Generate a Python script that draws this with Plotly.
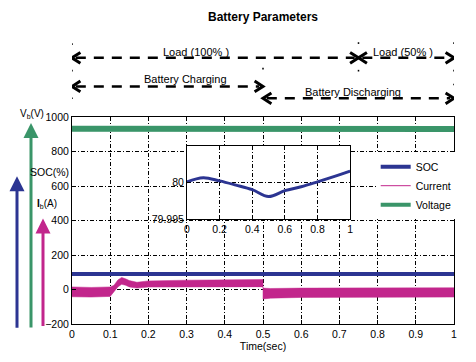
import plotly.graph_objects as go

# ---------------- data ----------------
time_soc = [0.0, 1.0]
soc_main = [90, 90]

time_v = [0.0, 0.1, 0.1, 0.5, 0.5, 1.0]
voltage = [932, 932, 924, 924, 930, 930]

time_i = [0.0, 0.05, 0.1, 0.11, 0.12, 0.13, 0.14, 0.15, 0.17, 0.2, 0.3, 0.4, 0.5, 0.5, 0.52, 0.6, 0.8, 1.0]
current_hi = [15, 12, 15, 25, 55, 70, 62, 52, 42, 50, 54, 56, 58, 8, 6, 8, 8, 10]
current_lo = [-42, -44, -40, -15, 15, 30, 25, 15, 8, 14, 14, 14, 16, -55, -50, -46, -45, -44]

time_inset = [0.0, 0.1, 0.2, 0.3, 0.4, 0.5, 0.6, 0.7, 0.8, 0.9, 1.0]
soc_inset = [80.00009, 80.00066, 80.00022, 79.99965, 79.99903, 79.99811,
             79.99890, 79.99943, 80.00009, 80.00079, 80.00154]

x_ticks = [0, 0.1, 0.2, 0.3, 0.4, 0.5, 0.6, 0.7, 0.8, 0.9, 1]
y_ticks = [-200, 0, 200, 400, 600, 800, 1000]
inset_x_ticks = [0, 0.2, 0.4, 0.6, 0.8, 1]
inset_y_ticks = [79.995, 80]

C_SOC = "#2c3592"
C_CUR = "#c2268c"
C_VOL = "#3a9569"
FONT = "Liberation Sans, Arial"

fig = go.Figure()

# current envelope
fig.add_trace(go.Scatter(x=time_i, y=current_lo, mode="lines",
                         line=dict(color=C_CUR, width=0.5), showlegend=False, hoverinfo="skip"))
fig.add_trace(go.Scatter(x=time_i, y=current_hi, mode="lines", fill="tonexty",
                         fillcolor=C_CUR, line=dict(color=C_CUR, width=0.5),
                         showlegend=False))
fig.add_trace(go.Scatter(x=time_soc, y=soc_main, mode="lines",
                         line=dict(color=C_SOC, width=4), showlegend=False))
fig.add_trace(go.Scatter(x=time_v, y=voltage, mode="lines",
                         line=dict(color=C_VOL, width=6), showlegend=False))

# legend entries
fig.add_trace(go.Scatter(x=[None], y=[None], mode="lines", name="SOC",
                         line=dict(color=C_SOC, width=4)))
fig.add_trace(go.Scatter(x=[None], y=[None], mode="lines", name="Current",
                         line=dict(color=C_CUR, width=1)))
fig.add_trace(go.Scatter(x=[None], y=[None], mode="lines", name="Voltage",
                         line=dict(color=C_VOL, width=4)))

# inset
fig.add_trace(go.Scatter(x=time_inset, y=soc_inset, mode="lines", xaxis="x2", yaxis="y2",
                         line=dict(color=C_SOC, width=3, shape="spline"), showlegend=False))

grid_dash = "4px,2px,1px,2px"

fig.update_layout(
    width=476, height=362,
    margin=dict(l=72, r=22, t=117, b=35),
    paper_bgcolor="white", plot_bgcolor="white",
    font=dict(family=FONT, size=10, color="black"),
    title=dict(text="<b>Battery Parameters</b>", x=0.5, xref="paper",
               y=1 - 17 / 362, yanchor="middle", font=dict(size=12, family=FONT)),
    xaxis=dict(range=[0, 1], tickvals=x_ticks, ticktext=[str(v) for v in x_ticks],
               showline=True, mirror=True, linecolor="black", linewidth=1,
               ticks="inside", ticklen=4, tickcolor="black",
               showgrid=True, gridcolor="black", gridwidth=1, griddash=grid_dash,
               zeroline=False, tickfont=dict(size=10.5),
               title=dict(text="Time(sec)", standoff=3, font=dict(size=10.5))),
    yaxis=dict(range=[-200, 1000], tickvals=y_ticks,
               showline=True, mirror=True, linecolor="black", linewidth=1,
               ticks="inside", ticklen=4, tickcolor="black",
               showgrid=True, gridcolor="black", gridwidth=1, griddash=grid_dash,
               zeroline=False, tickfont=dict(size=10.5)),
    xaxis2=dict(domain=[0.301, 0.728], anchor="y2", range=[0, 1], tickvals=inset_x_ticks,
                ticktext=["0", "0.2", "0.4", "0.6", "0.8", "1"],
                showline=True, mirror=True, linecolor="black", linewidth=1,
                ticks="inside", ticklen=3, tickcolor="black",
                showgrid=True, gridcolor="black", gridwidth=1, griddash=grid_dash,
                zeroline=False, tickfont=dict(size=10.5)),
    yaxis2=dict(domain=[0.505, 0.862], anchor="x2", range=[79.995, 80.005],
                tickvals=inset_y_ticks, ticktext=["79.995", "80"],
                showline=True, mirror=True, linecolor="black", linewidth=1,
                ticks="inside", ticklen=3, tickcolor="black",
                showgrid=True, gridcolor="black", gridwidth=1, griddash=grid_dash,
                zeroline=False, tickfont=dict(size=10.5)),
    legend=dict(x=0.795, y=0.83, xanchor="left", yanchor="top",
                bgcolor="white", borderwidth=0, font=dict(size=10.5),
                itemwidth=30, tracegroupgap=0, traceorder="normal"),
)

shapes = []
# white background behind inset
shapes.append(dict(type="rect", xref="x2 domain", yref="y2 domain", x0=0, x1=1, y0=0, y1=1,
                   fillcolor="white", line=dict(width=0), layer="below"))

def ypx(py):
    return (327 - py) / 210.0

# dashed double arrows at top: (x0, x1, pixel y)
arrow_rows = [(0.0, 0.75, 57), (0.75, 1.0, 57), (0.0, 0.5, 86), (0.5, 1.0, 98)]
hx, hy = 0.022, 0.026
for x0, x1, py in arrow_rows:
    y = ypx(py)
    shapes.append(dict(type="line", xref="x", yref="paper", x0=x0 + 0.01, x1=x1 - 0.01, y0=y, y1=y,
                       line=dict(color="black", width=2.5, dash="10px,8px")))
    shapes.append(dict(type="path", xref="x", yref="paper",
                       path=f"M {x0 + hx},{y + hy} L {x0},{y} L {x0 + hx},{y - hy}",
                       line=dict(color="black", width=3)))
    shapes.append(dict(type="path", xref="x", yref="paper",
                       path=f"M {x1 - hx},{y + hy} L {x1},{y} L {x1 - hx},{y - hy}",
                       line=dict(color="black", width=3)))

# small dots at phase boundaries
dots = [(0, 43), (0.75, 42), (1, 42), (0, 70), (0.5, 68), (0.75, 70), (1, 70), (1, 84), (0, 98)]
for dx, py in dots:
    y = ypx(py)
    shapes.append(dict(type="rect", xref="x", yref="paper", x0=dx - 0.002, x1=dx + 0.002,
                       y0=y - 0.004, y1=y + 0.004, fillcolor="black", line=dict(width=0)))

fig.update_layout(shapes=shapes)

ann = []
ann.append(dict(text="Load (100% )", x=0.325, y=ypx(43), xref="x", yref="paper",
                showarrow=False, font=dict(size=11)))
ann.append(dict(text="Load (50% )", x=0.867, y=ypx(43), xref="x", yref="paper",
                showarrow=False, font=dict(size=11)))
ann.append(dict(text="Battery Charging", x=0.298, y=ypx(70), xref="x", yref="paper",
                showarrow=False, font=dict(size=11)))
ann.append(dict(text="Battery Discharging", x=0.735, y=ypx(84), xref="x", yref="paper",
                showarrow=False, font=dict(size=11)))

def xpx(px):
    return (px - 72) / 382.0

# vertical coloured arrows on the left
for px, top, bottom, col in [(17, 177, 330, C_SOC), (31, 123, 329, C_VOL), (43, 220, 329, C_CUR)]:
    ann.append(dict(text="", x=xpx(px), y=ypx(top), xref="paper", yref="paper",
                    showarrow=True, ax=0, ay=bottom - top, arrowhead=2, arrowsize=1,
                    arrowwidth=3, arrowcolor=col, standoff=0, startstandoff=0))
ann.append(dict(text="SOC(%)", x=xpx(28), y=ypx(165), xref="paper", yref="paper",
                showarrow=False, font=dict(size=10.5)))
ann.append(dict(text="V<sub>b</sub>(V)", x=xpx(18), y=ypx(106), xref="paper", yref="paper",
                xanchor="left", showarrow=False, font=dict(size=10)))
ann.append(dict(text="<b>I</b><sub>b</sub>(A)", x=xpx(35), y=ypx(205), xref="paper", yref="paper",
                xanchor="left", showarrow=False, font=dict(size=10)))

fig.update_layout(annotations=ann)

fig.write_html("out.html", post_script="document.body.style.margin='0';",
               config={"displayModeBar": False})
